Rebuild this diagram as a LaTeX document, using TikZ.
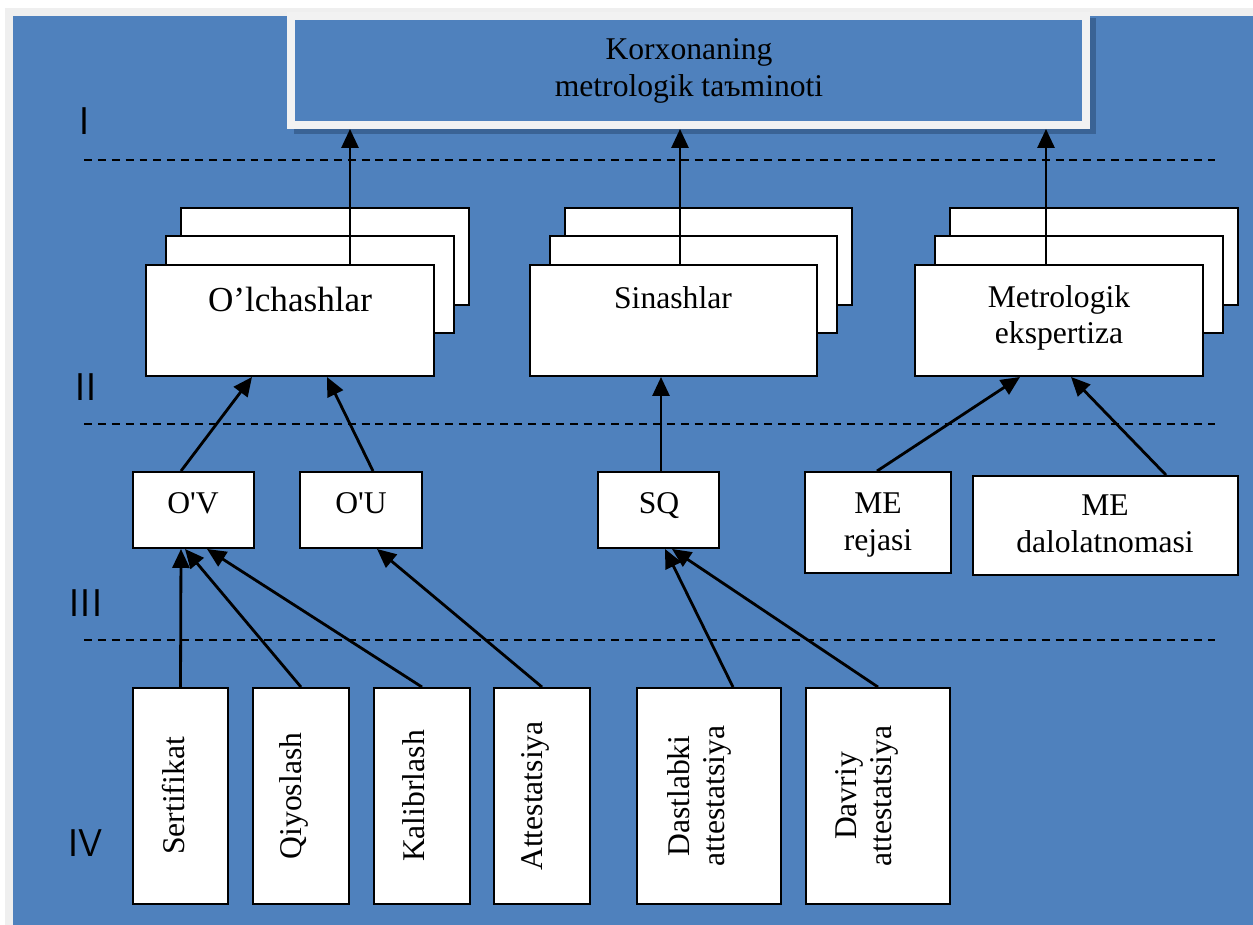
\documentclass[tikz,border=0pt]{standalone}
\usepackage{fontspec}
\newfontfamily\tnr{Liberation Serif}
\usetikzlibrary{arrows.meta,fit}
\definecolor{bgblue}{HTML}{4F81BD}
\definecolor{shblue}{HTML}{3A6395}
\definecolor{framegray}{HTML}{F2F2F2}
\definecolor{edgegray}{HTML}{EFEFEF}
\begin{document}
\begin{tikzpicture}[x=0.02cm,y=-0.02cm,
  box/.style={draw=black,fill=white,line width=1.1pt,inner sep=0pt},
  lbl/.style={font=\tnr\fontsize{18}{21}\selectfont,align=center,inner sep=0pt},
  vlbl/.style={lbl,rotate=90,font=\tnr\fontsize{18}{20}\selectfont},
  arr/.style={line width=1.6pt,-{Triangle[length=0.38cm,width=0.34cm]}},
  sep/.style={line width=0.9pt,dash pattern=on 4.5pt off 3.4pt},
  lvl/.style={font=\sffamily\fontsize{22}{26}\selectfont,inner sep=0pt}]
\useasboundingbox (0,0) rectangle (1253,924);
\fill[edgegray] (5,8) rectangle (1262,934);
\fill[bgblue] (13,16) rectangle (1262,934);
% top box
\fill[shblue] (294,18) rectangle (1096,134);
\node[fit={(291,16) (1086,125)},fill=bgblue,draw=framegray,line width=4.5pt,inner sep=0pt] (top) {};
\node[lbl] (toptxt) at (689,71) {Korxonaning\\metrologik taъminoti};
% levels
\draw[sep] (84,160) -- (1215,160);
\draw[sep] (84,424) -- (1215,424);
\draw[sep] (84,640) -- (1215,640);
\node[lvl] (lvI) at (85,121) {I};
\node[lvl] (lvII) at (86,387) {II};
\node[lvl] (lvIII) at (86,603) {III};
\node[lvl] (lvIV) at (86,843) {IV};
% level II
\node[box,fit={(181,208) (469,305)}] (olch3) {};
\node[box,fit={(166,236) (454,333)}] (olch2) {};
\node[box,fit={(146,265) (434,376)}] (olch) {};
\node[box,fit={(565,208) (852,305)}] (sin3) {};
\node[box,fit={(550,236) (837,333)}] (sin2) {};
\node[box,fit={(530,265) (817,376)}] (sin) {};
\node[box,fit={(950,208) (1238,305)}] (mex3) {};
\node[box,fit={(935,236) (1223,333)}] (mex2) {};
\node[box,fit={(915,265) (1203,376)}] (mex) {};
\node[lbl,font=\tnr\fontsize{20}{24}\selectfont] (olcht) at (290,299) {O’lchashlar};
\node[lbl] (sint) at (673,298) {Sinashlar};
\node[lbl,font=\tnr\fontsize{18}{20.4}\selectfont] (mext) at (1059,318) {Metrologik\\ekspertiza};
% level III
\node[box,fit={(133,472) (254,548)}] (ov) {};
\node[box,fit={(300,472) (422,548)}] (ou) {};
\node[box,fit={(598,472) (719,548)}] (sq) {};
\node[box,fit={(805,472) (951,573)}] (mer) {};
\node[box,fit={(973,476) (1238,575)}] (med) {};
\node[lbl] (ovt) at (193,503) {O'V};
\node[lbl] (out) at (361,503) {O'U};
\node[lbl] (sqt) at (659,506) {SQ};
\node[lbl] (mert) at (878,525) {ME\\rejasi};
\node[lbl] (medt) at (1105,524) {ME\\dalolatnomasi};
% level IV
\node[box,fit={(133,688) (228,904)}] (sert) {};
\node[box,fit={(253,688) (349,904)}] (qiy) {};
\node[box,fit={(374,688) (470,904)}] (kal) {};
\node[box,fit={(494,688) (590,904)}] (att) {};
\node[box,fit={(637,688) (781,904)}] (dast) {};
\node[box,fit={(806,688) (950,904)}] (dav) {};
\node[vlbl] (sertt) at (174,796) {Sertifikat};
\node[vlbl] (qiyt) at (294,796) {Qiyoslash};
\node[vlbl] (kalt) at (414,796) {Kalibrlash};
\node[vlbl] (attt) at (535,796) {Attestatsiya};
\node[vlbl] (dastt) at (699,796) {Dastlabki\\attestatsiya};
\node[vlbl] (davt) at (867,796) {Davriy\\attestatsiya};
% arrows
\draw[arr] (olch.north -| 350,0) -- (top.south -| 350,0);
\draw[arr] (sin.north -| 680,0) -- (top.south -| 680,0);
\draw[arr] (mex.north -| 1046,0) -- (top.south -| 1046,0);
\draw[arr] (ov.north -| 181,0) -- (olch.south -| 252,0);
\draw[arr] (ou.north -| 373,0) -- (olch.south -| 327,0);
\draw[arr] (sq.north -| 661,0) -- (sin.south -| 661,0);
\draw[arr] (mer.north -| 877,0) -- (mex.south -| 1020,0);
\draw[arr] (med.north -| 1166,0) -- (mex.south -| 1071,0);
\draw[arr] (sert.north) -- (ov.south -| 181,0);
\draw[arr] (qiy.north -| 301,0) -- (ov.south -| 185,0);
\draw[arr] (kal.north) -- (ov.south -| 207,0);
\draw[arr] (att.north) -- (ou.south -| 377,0);
\draw[arr] (dast.north -| 733,0) -- (sq.south -| 665,0);
\draw[arr] (dav.north) -- (sq.south -| 672,0);
\end{tikzpicture}
\end{document}
